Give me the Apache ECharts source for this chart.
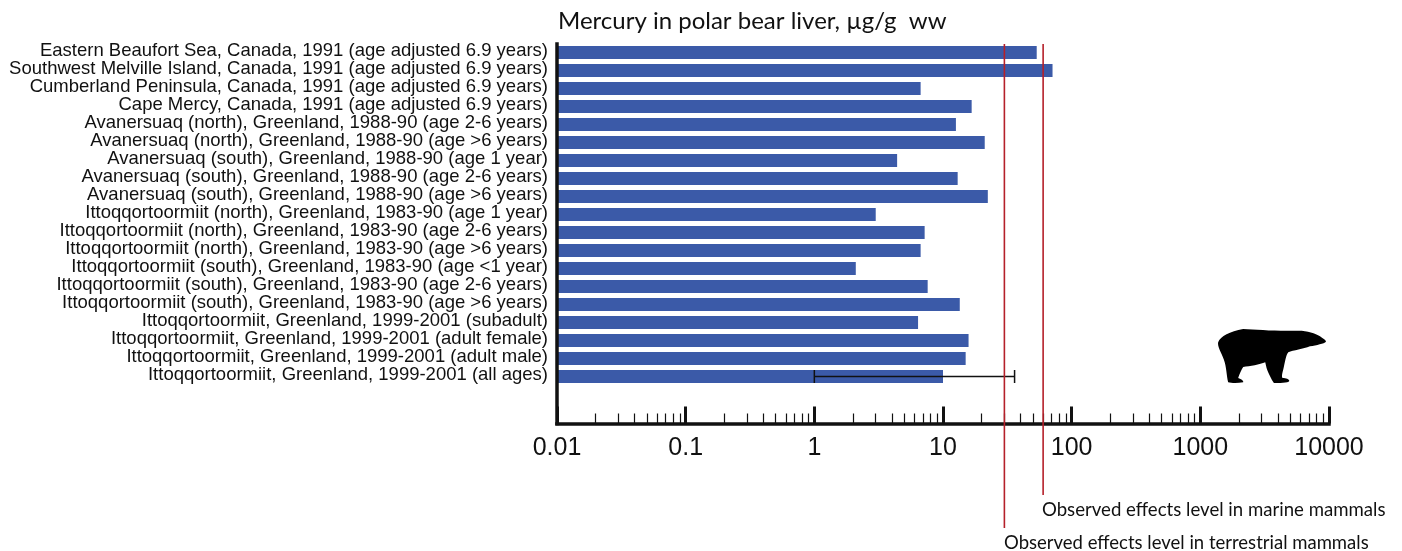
<!DOCTYPE html>
<html><head><meta charset="utf-8">
<style>html,body{margin:0;padding:0;background:#fff}#c{width:1402px;height:551px}</style>
<script src="https://cdn.jsdelivr.net/npm/echarts@6/dist/echarts.min.js"></script>
</head><body><div id="c"></div>
<script>
const categories = [
"Eastern Beaufort Sea, Canada, 1991 (age adjusted 6.9 years)",
"Southwest Melville Island, Canada, 1991 (age adjusted 6.9 years)",
"Cumberland Peninsula, Canada, 1991 (age adjusted 6.9 years)",
"Cape Mercy, Canada, 1991 (age adjusted 6.9 years)",
"Avanersuaq (north), Greenland, 1988-90 (age 2-6 years)",
"Avanersuaq (north), Greenland, 1988-90 (age >6 years)",
"Avanersuaq (south), Greenland, 1988-90 (age 1 year)",
"Avanersuaq (south), Greenland, 1988-90 (age 2-6 years)",
"Avanersuaq (south), Greenland, 1988-90 (age >6 years)",
"Ittoqqortoormiit (north), Greenland, 1983-90 (age 1 year)",
"Ittoqqortoormiit (north), Greenland, 1983-90 (age 2-6 years)",
"Ittoqqortoormiit (north), Greenland, 1983-90 (age >6 years)",
"Ittoqqortoormiit (south), Greenland, 1983-90 (age <1 year)",
"Ittoqqortoormiit (south), Greenland, 1983-90 (age 2-6 years)",
"Ittoqqortoormiit (south), Greenland, 1983-90 (age >6 years)",
"Ittoqqortoormiit, Greenland, 1999-2001 (subadult)",
"Ittoqqortoormiit, Greenland, 1999-2001 (adult female)",
"Ittoqqortoormiit, Greenland, 1999-2001 (adult male)",
"Ittoqqortoormiit, Greenland, 1999-2001 (all ages)"];
const mercury = [53.5,71,6.7,16.7,12.6,21.1,4.4,13,22.3,3,7.2,6.7,2.1,7.6,13.5,6.4,15.8,15,10];
const errorBar = [[1,36,18]];
const majorTicks = [0.01,0.1,1,10,100,1000,10000];
const minorTicks = [];
[0.01,0.1,1,10,100,1000].forEach(d=>{[2,3,4,5,6,7,8,9].forEach(m=>minorTicks.push(+(d*m).toPrecision(3)));});
const terrestrialLevel = 30, marineLevel = 60;
const title = "Mercury in polar bear liver, µg/g  ww";
const marineText = "Observed effects level in marine mammals";
const terrestrialText = "Observed effects level in terrestrial mammals";
const bearPath = "M55 68 C62 50 90 35 130 28 C170 30 230 35 290 33 C320 32 345 40 360 50 C370 57 378 62 378 66 C372 72 350 76 330 80 C310 88 280 92 265 98 C258 105 255 130 250 150 C246 165 245 172 248 175 C258 175 268 178 268 184 C266 190 235 190 222 190 C215 180 205 160 200 145 L196 128 C180 135 150 140 130 142 C125 150 118 165 115 175 C125 178 132 184 130 188 C115 191 95 191 85 188 C80 170 80 140 72 120 C65 100 52 80 55 68 Z";

const L=557, W=772, logX={type:'log',min:0.01,max:10000,logBase:10};
const hidden={show:false};
const barRows = mercury.map((v,i)=>[v,i]);
const chart=echarts.init(document.getElementById('c'),null,{renderer:'canvas'});
chart.setOption({
 animation:false,
 backgroundColor:'#fff',
 title:{text:title,left:553,top:4,textStyle:{fontFamily:'Lato',fontWeight:'normal',fontSize:24,color:'#111'}},
 grid:[
  {left:L,width:W,top:43.5,height:342},
  {left:L,width:W,top:44,height:379.5},
  {left:L,width:W,top:44,height:484},
  {left:L,width:W,top:41.7,height:342}
 ],
 xAxis:[
  Object.assign({gridIndex:0,show:false},logX),
  Object.assign({gridIndex:1,position:'bottom',z:5,splitLine:hidden,
    axisLine:{show:true,onZero:false,lineStyle:{color:'#111',width:3.5,cap:'square'}},
    axisTick:{show:true,inside:true,length:17,customValues:majorTicks,lineStyle:{color:'#111',width:3}},
    axisLabel:{show:true,customValues:majorTicks,margin:12,hideOverlap:false,fontFamily:'Liberation Sans',fontSize:25,color:'#111',formatter:v=>String(v)}},logX),
  Object.assign({gridIndex:1,position:'bottom',z:5,splitLine:hidden,
    axisLine:{show:false,onZero:false},
    axisTick:{show:true,inside:true,length:10,customValues:minorTicks,lineStyle:{color:'#111',width:1.2}},
    axisLabel:{show:false}},logX),
  Object.assign({gridIndex:2,show:false},logX),
  Object.assign({gridIndex:3,show:false},logX)
 ],
 yAxis:[
  {gridIndex:0,type:'category',inverse:true,data:categories,show:false},
  {gridIndex:1,type:'value',min:0,max:1,z:5,splitLine:hidden,axisTick:hidden,axisLabel:hidden,
   axisLine:{show:true,onZero:false,lineStyle:{color:'#111',width:3.5,cap:'square'}}},
  {gridIndex:2,type:'value',inverse:true,min:0,max:484,show:false},
  {gridIndex:3,type:'category',inverse:true,data:categories,axisLine:hidden,axisTick:hidden,splitLine:hidden,
   axisLabel:{margin:9,fontFamily:'Liberation Sans',fontSize:18.5,color:'#111',interval:0}}
 ],
 series:[
  {type:'custom',name:'Mercury',xAxisIndex:0,yAxisIndex:0,data:barRows,encode:{x:0,y:1},z:2,silent:true,clip:false,
   renderItem:(p,api)=>{
     const base=api.coord([logX.min,api.value(1)]),end=api.coord([api.value(0),api.value(1)]),h=13;
     return {type:'rect',shape:{x:base[0],y:base[1]-h/2,width:end[0]-base[0],height:h},style:{fill:'#3B5AA8'}};
   }},
  {type:'custom',xAxisIndex:0,yAxisIndex:0,data:errorBar,encode:{x:[0,1],y:2},z:6,silent:true,clip:false,
   renderItem:(p,api)=>{
     const a=api.coord([api.value(0),api.value(2)]),b=api.coord([api.value(1),api.value(2)]),s={stroke:'#111',lineWidth:1.5};
     return {type:'group',children:[
       {type:'line',shape:{x1:a[0],y1:a[1],x2:b[0],y2:b[1]},style:s},
       {type:'line',shape:{x1:a[0],y1:a[1]-6.5,x2:a[0],y2:a[1]+6.5},style:s},
       {type:'line',shape:{x1:b[0],y1:b[1]-6.5,x2:b[0],y2:b[1]+6.5},style:s}]};
   }},
  {type:'line',xAxisIndex:3,yAxisIndex:2,z:7,silent:true,symbol:'none',clip:false,data:[[terrestrialLevel,0],[terrestrialLevel,484]],lineStyle:{color:'#B5202A',width:1.6}},
  {type:'line',xAxisIndex:3,yAxisIndex:2,z:7,silent:true,symbol:'none',clip:false,data:[[marineLevel,0],[marineLevel,451]],lineStyle:{color:'#B5202A',width:1.6}},
  {type:'custom',xAxisIndex:3,yAxisIndex:2,data:[[1,0]],silent:true,clip:false,z:8,
   renderItem:()=>({type:'path',shape:{pathData:bearPath,layout:'cover',x:1218,y:329,width:108,height:54},style:{fill:'#000'}})}
 ],
 graphic:[
  {type:'text',x:1042,y:500,style:{text:marineText,font:'18.6px "Lato"',fill:'#111'}},
  {type:'text',x:1004,y:534,style:{text:terrestrialText,font:'18.5px "Lato"',fill:'#111'}}
 ]
});
</script></body></html>
